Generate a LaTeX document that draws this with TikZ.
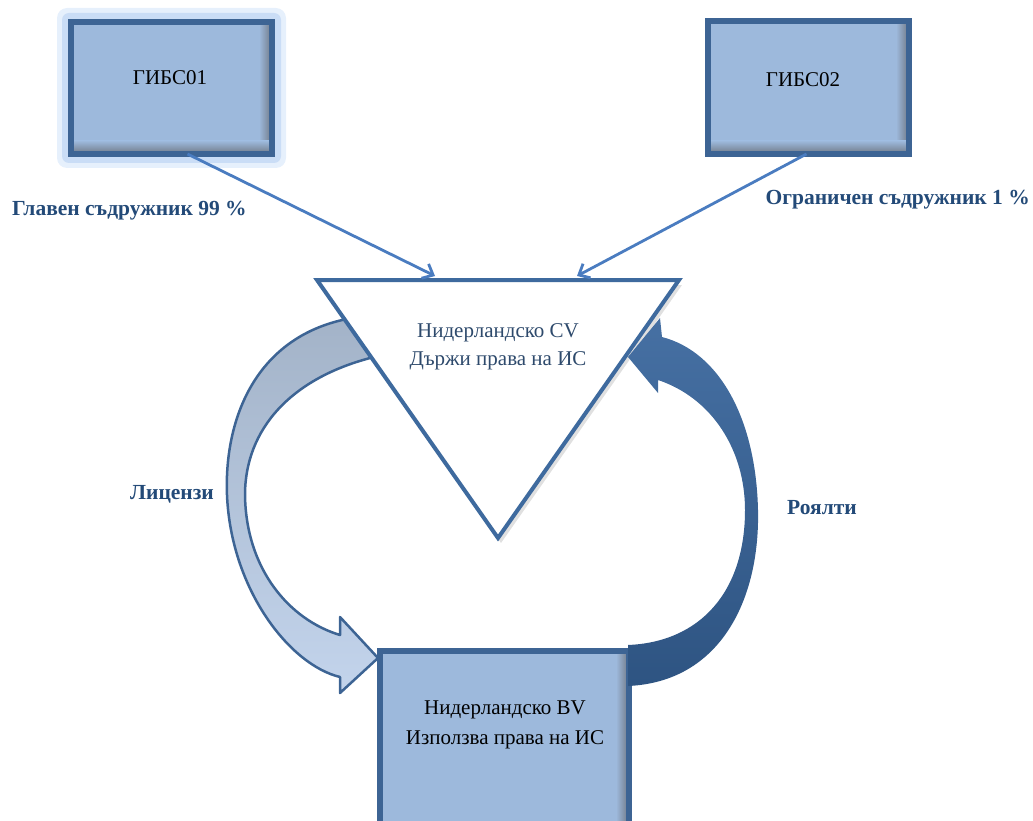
\documentclass[tikz,border=0pt]{standalone}
\usepackage{fontspec}
\setmainfont{Liberation Serif}
\usetikzlibrary{arrows.meta}
\definecolor{bord}{HTML}{3D6494}
\definecolor{boxfill}{HTML}{9DB9DC}
\definecolor{shadowgray}{HTML}{7A8799}
\definecolor{linecol}{HTML}{4A7CC0}
\definecolor{lbl}{HTML}{234A78}
\definecolor{tri}{HTML}{3E6A9E}
\definecolor{licTop}{HTML}{A3B3C8}
\definecolor{licBot}{HTML}{C3D4EC}
\definecolor{royTop}{HTML}{4670A3}
\definecolor{royBot}{HTML}{2E5482}
\definecolor{glowA}{HTML}{E6F0FC}
\definecolor{glowB}{HTML}{CADDF6}
\definecolor{cvtext}{HTML}{2E4A6C}
\begin{document}
\begin{tikzpicture}[x=1pt,y=-1pt,
  ibox/.style={draw=bord, fill=boxfill, line width=6pt, inner sep=0pt, outer sep=0pt},
  boxtext/.style={font=\fontsize{21}{30}\selectfont, text=black, align=center, inner sep=0pt},
  lbltext/.style={font=\fontsize{21.5}{24}\selectfont\bfseries, text=lbl, inner sep=0pt},
  thinarrow/.style={draw=linecol, line width=2.8pt, -{Straight Barb[length=9pt,width=16pt,line width=2.8pt]}},
]
\useasboundingbox (0,0) rectangle (1033,821);
\clip (0,0) rectangle (1033,821);

% glow around first box
\fill[glowA, rounded corners=10pt] (57,8) rectangle (286,168);
\fill[glowB, rounded corners=7pt] (62,13) rectangle (281,163);

% box GIBS01
\node[ibox, minimum width=201pt, minimum height=132pt] (g1) at (171.5,88) {};
\shade[left color=boxfill, right color=shadowgray] (259,25) rectangle (269,151);
\shade[top color=boxfill, bottom color=shadowgray] (74,141) rectangle (269,151);
\draw[bord, line width=6pt] (g1.north west) rectangle (g1.south east);
\node[boxtext] (g1t) at (170,78) {ГИБС01};

% box GIBS02
\node[ibox, minimum width=201pt, minimum height=133pt] (g2) at (808.5,87.5) {};
\shade[left color=boxfill, right color=shadowgray] (896,24) rectangle (906,151);
\shade[top color=boxfill, bottom color=shadowgray] (711,141) rectangle (906,151);
\draw[bord, line width=6pt] (g2.north west) rectangle (g2.south east);
\node[boxtext] (g2t) at (803,80) {ГИБС02};

% box BV
\node[ibox, minimum width=249pt, minimum height=200pt] (bv) at (504,751) {};
\shade[left color=boxfill, right color=shadowgray] (616,654) rectangle (626,850);
\draw[bord, line width=6pt] (bv.north west) rectangle (bv.south east);
\node[boxtext] (bvt) at (505,725) {Нидерландско BV\\Използва права на ИС};

% left curved arrow (Лицензи)
\shade[top color=licTop, bottom color=licBot, draw=bord, line width=2.5pt, line join=round]
  (352,318) .. controls (255,335) and (224,420) .. (227,495)
  .. controls (231,590) and (290,665) .. (340,677)
  -- (340,693) -- (378,658) -- (340,617) -- (340,635)
  .. controls (290,620) and (246,570) .. (245,495)
  .. controls (245,430) and (290,378) .. (374,357) -- cycle;

% triangle (CV)
\coordinate (tl) at (317,280);
\coordinate (tr) at (679,280);
\coordinate (tb) at (498,538);
\fill[black, opacity=0.12] ([shift={(3pt,-5pt)}]tl) -- ([shift={(3pt,-5pt)}]tr) -- ([shift={(3pt,-5pt)}]tb) -- cycle;
\draw[tri, line width=4pt, fill=white, line join=miter] (tl) -- (tr) -- (tb) -- cycle;
\node[boxtext, text=cvtext, font=\fontsize{21}{28}\selectfont] (cvt) at (498,347) {Нидерландско CV\\Държи права на ИС};
\coordinate (cvin1) at (435,276);
\coordinate (cvin2) at (577,276);

% right curved arrow (Роялти)
\shade[top color=royTop, bottom color=royBot]
  (628,686) .. controls (720,682) and (760,600) .. (758,510)
  .. controls (756,420) and (720,352) .. (662,337)
  -- (660,318) -- (628,357) -- (658,393) -- (658,380)
  .. controls (712,398) and (745,450) .. (745,510)
  .. controls (745,592) and (700,642) .. (628,645) -- cycle;

% connectors from partners
\draw[thinarrow] ([xshift=16pt]g1.south) -- (cvin1);
\draw[thinarrow] ([xshift=-2pt]g2.south) -- (cvin2);

% labels
\node[lbltext, anchor=west] (l1) at (12,211) {Главен съдружник 99 \%};
\node[lbltext, anchor=east] (l2) at (1030,200) {Ограничен съдружник 1 \%};
\node[lbltext] (l3) at (172,494) {Лицензи};
\node[lbltext] (l4) at (822,508) {Роялти};
\end{tikzpicture}
\end{document}
